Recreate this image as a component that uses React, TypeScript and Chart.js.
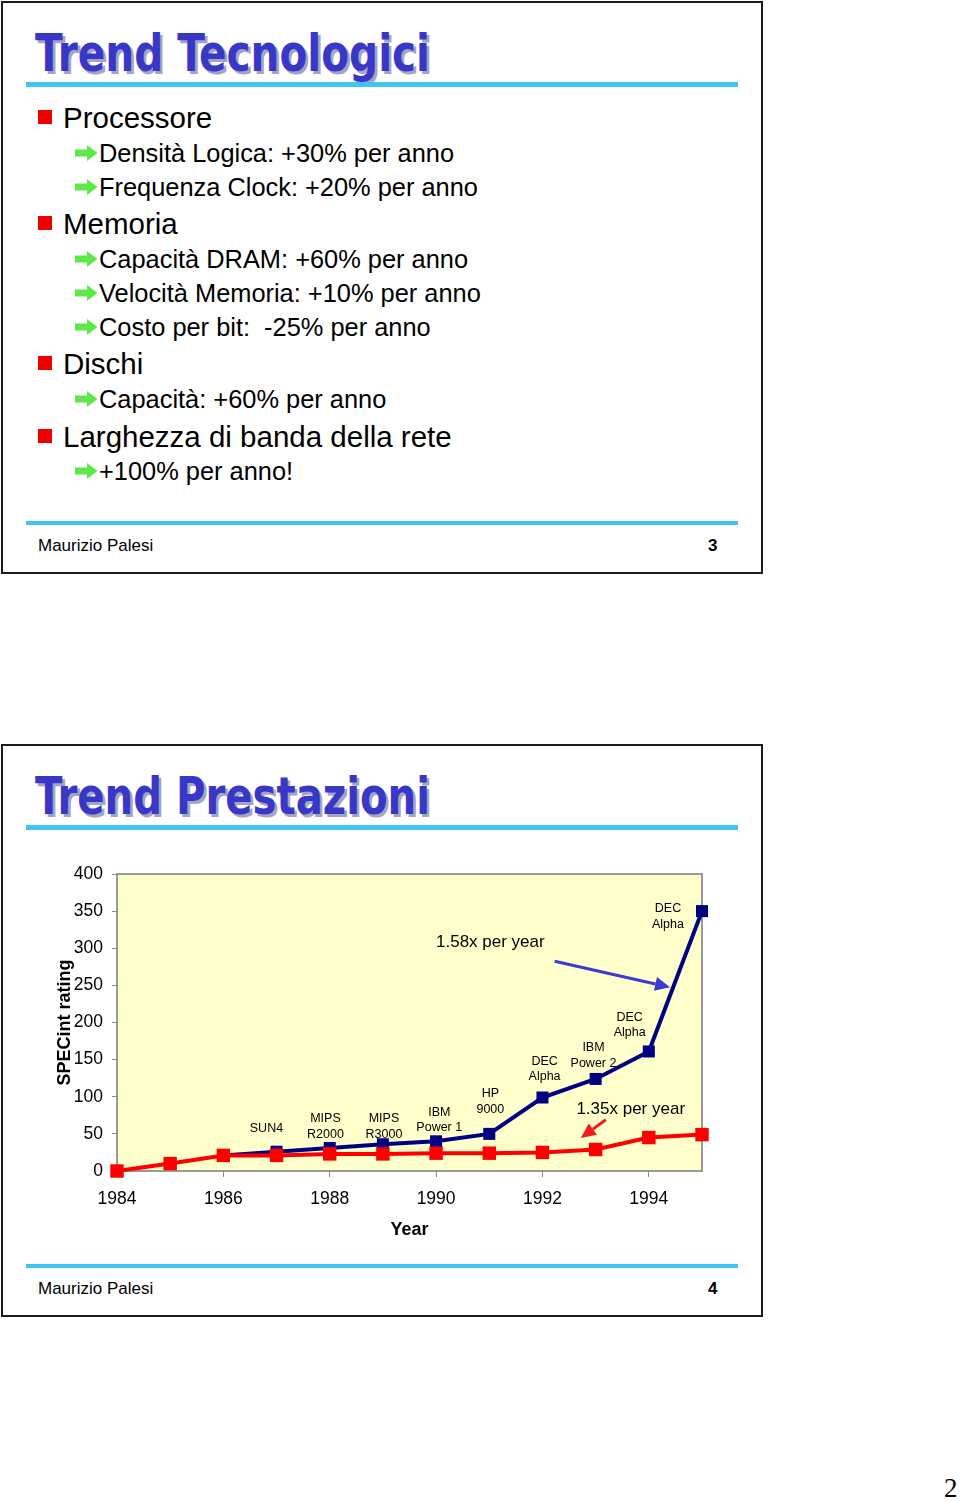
import React, { useEffect, useLayoutEffect, useRef } from "react";
import { Chart, registerables } from "chart.js";

Chart.register(...registerables);

// ---------- data ----------
const redYears = [1984, 1985, 1986, 1987, 1988, 1989, 1990, 1991, 1992, 1993, 1994, 1995];
const redValues = [0, 10, 21, 21, 23, 23, 24, 24, 25, 29, 45, 49];
const blueYears = [1986, 1987, 1988, 1989, 1990, 1991, 1992, 1993, 1994, 1995];
const blueValues = [21, 26, 31, 36, 40, 50, 99, 124, 161, 350];
const xTickYears = [1984, 1986, 1988, 1990, 1992, 1994];
const yTickValues = [0, 50, 100, 150, 200, 250, 300, 350, 400];

const machineNames = [
  ["SUN4"],
  ["MIPS", "R2000"],
  ["MIPS", "R3000"],
  ["IBM", "Power 1"],
  ["HP", "9000"],
  ["DEC", "Alpha"],
  ["IBM", "Power 2"],
  ["DEC", "Alpha"],
  ["DEC", "Alpha"],
];
// label anchors in data space (year, SPECint)
const machineAnchorYears = [1986.81, 1987.92, 1989.02, 1990.06, 1991.02, 1992.04, 1992.96, 1993.64, 1994.36];
const machineAnchorValues = [56.6, 60, 60, 68.7, 93.6, 137.4, 155.6, 196.6, 342.8];

const blueRateText = "1.58x per year";
const redRateText = "1.35x per year";

const SANS = "'Liberation Sans', Arial, Helvetica, sans-serif";
const TITLE_FONT = "'DejaVu Sans Condensed', 'DejaVu Sans', sans-serif";
const CYAN = "#3fc6f0";

// ---------- chart ----------
function PerfChart() {
  const ref = useRef<HTMLCanvasElement>(null);
  useEffect(() => {
    const canvas = ref.current!;
    const arrow = (ctx: CanvasRenderingContext2D, x1: number, y1: number, x2: number, y2: number, color: string) => {
      const ang = Math.atan2(y2 - y1, x2 - x1);
      const hl = 15, hw = 7;
      const bx = x2 - hl * Math.cos(ang), by = y2 - hl * Math.sin(ang);
      ctx.save();
      ctx.strokeStyle = color;
      ctx.fillStyle = color;
      ctx.lineWidth = 3;
      ctx.beginPath();
      ctx.moveTo(x1, y1);
      ctx.lineTo(bx, by);
      ctx.stroke();
      ctx.beginPath();
      ctx.moveTo(x2, y2);
      ctx.lineTo(bx + hw * Math.sin(ang), by - hw * Math.cos(ang));
      ctx.lineTo(bx - hw * Math.sin(ang), by + hw * Math.cos(ang));
      ctx.closePath();
      ctx.fill();
      ctx.restore();
    };
    const plugin = {
      id: "slideDecor",
      beforeDraw(chart: any) {
        const { ctx, chartArea: a } = chart;
        ctx.save();
        ctx.fillStyle = "#ffffcc";
        ctx.fillRect(a.left, a.top, a.right - a.left, a.bottom - a.top);
        ctx.strokeStyle = "#9a9a9a";
        ctx.lineWidth = 2;
        ctx.strokeRect(a.left, a.top, a.right - a.left, a.bottom - a.top);
        ctx.restore();
      },
      afterDatasetsDraw(chart: any) {
        const { ctx } = chart;
        const xs = chart.scales.x, ys = chart.scales.y;
        ctx.save();
        ctx.fillStyle = "#000";
        ctx.textAlign = "center";
        ctx.textBaseline = "middle";
        ctx.font = `12.5px ${SANS}`;
        machineNames.forEach((lines, i) => {
          const cx = xs.getPixelForValue(machineAnchorYears[i]);
          const cy = ys.getPixelForValue(machineAnchorValues[i]);
          const lh = 15.5;
          lines.forEach((t, j) => {
            ctx.fillText(t, cx, cy + (j - (lines.length - 1) / 2) * lh);
          });
        });
        ctx.font = `17px ${SANS}`;
        ctx.fillText(blueRateText, xs.getPixelForValue(1991.02), ys.getPixelForValue(308.4));
        ctx.fillText(redRateText, xs.getPixelForValue(1993.66), ys.getPixelForValue(83.5));
        ctx.restore();
        arrow(ctx, xs.getPixelForValue(1992.23), ys.getPixelForValue(282.5), xs.getPixelForValue(1994.4), ys.getPixelForValue(247.5), "#3b3bd0");
        arrow(ctx, xs.getPixelForValue(1993.19), ys.getPixelForValue(69), xs.getPixelForValue(1992.72), ys.getPixelForValue(44.5), "#ee1c1c");
      },
    };
    const chart = new Chart(canvas, {
      type: "line",
      data: {
        datasets: [
          {
            label: "red",
            data: redYears.map((y, i) => ({ x: y, y: redValues[i] })),
            borderColor: "#ff0000",
            backgroundColor: "#ff0000",
            borderWidth: 4,
            pointStyle: "rect",
            pointRadius: 9.5,
            pointBorderWidth: 0,
            pointBackgroundColor: "#ff0000",
            tension: 0,
            clip: false,
          },
          {
            label: "blue",
            data: blueYears.map((y, i) => ({ x: y, y: blueValues[i] })),
            borderColor: "#000080",
            backgroundColor: "#000080",
            borderWidth: 4,
            pointStyle: "rect",
            pointRadius: 8.5,
            pointBorderWidth: 0,
            pointBackgroundColor: "#000080",
            tension: 0,
            clip: false,
          },
        ],
      },
      options: {
        responsive: false,
        animation: false,
        events: [],
        layout: { padding: { left: 0, right: 58, top: 24, bottom: 0 } },
        plugins: { legend: { display: false }, tooltip: { enabled: false } },
        scales: {
          x: {
            type: "linear",
            min: 1984,
            max: 1995,
            afterBuildTicks: (s: any) => {
              s.ticks = xTickYears.map((v) => ({ value: v }));
            },
            afterFit: (s: any) => {
              s.height = 79;
            },
            border: { display: false },
            grid: { drawOnChartArea: false, drawTicks: true, tickLength: 6, color: "#8a8a8a", lineWidth: 1 },
            ticks: { color: "#000", font: { family: SANS, size: 17.5 }, padding: 12, maxRotation: 0, callback: (v: any) => String(v) },
            title: { display: true, text: "Year", color: "#000", font: { family: SANS, size: 18, weight: "bold" }, padding: { top: 0, bottom: 9 } },
          },
          y: {
            type: "linear",
            min: 0,
            max: 400,
            afterBuildTicks: (s: any) => {
              s.ticks = yTickValues.map((v) => ({ value: v }));
            },
            afterFit: (s: any) => {
              s.width = 117;
            },
            border: { display: false },
            grid: { drawOnChartArea: false, drawTicks: true, tickLength: 5, color: "#8a8a8a", lineWidth: 1 },
            ticks: { color: "#000", font: { family: SANS, size: 17.5 }, padding: 9 },
            title: { display: true, text: "SPECint rating", color: "#000", font: { family: SANS, size: 18, weight: "bold" }, padding: { top: 54, bottom: 0 } },
          },
        },
      },
      plugins: [plugin],
    } as any);
    return () => chart.destroy();
  }, []);
  return (
    <canvas
      ref={ref}
      width={760}
      height={400}
      style={{ position: "absolute", left: 0, top: 850, width: 760, height: 400 }}
    />
  );
}

// ---------- slide pieces ----------
function FitTitle({ text, baseline, target }: { text: string; baseline: number; target: number }) {
  const ref = useRef<HTMLSpanElement>(null);
  const fs = 51;
  useLayoutEffect(() => {
    const el = ref.current!;
    el.style.transform = "none";
    const w = el.getBoundingClientRect().width;
    if (w > 0) el.style.transform = `scaleX(${target / w})`;
  }, []);
  return (
    <span
      ref={ref}
      style={{
        position: "absolute",
        left: 35,
        top: baseline - 0.946 * fs,
        fontFamily: TITLE_FONT,
        fontWeight: "bold",
        fontSize: fs,
        lineHeight: `${fs * 1.2}px`,
        color: "#3838c8",
        textShadow: "3px 3px 0 #a4a4c4",
        whiteSpace: "nowrap",
        transformOrigin: "left center",
        display: "inline-block",
      }}
    >
      {text}
    </span>
  );
}

function Line({ text, x, cy, size, bold }: { text: string; x: number; cy: number; size: number; bold?: boolean }) {
  return (
    <div
      style={{
        position: "absolute",
        left: x,
        top: cy - 0.5885 * size,
        fontFamily: SANS,
        fontSize: size,
        fontWeight: bold ? "bold" : "normal",
        lineHeight: `${size * 1.2}px`,
        whiteSpace: "pre",
        color: "#000",
      }}
    >
      {text}
    </div>
  );
}

function MainItem({ text, cy }: { text: string; cy: number }) {
  return (
    <>
      <div style={{ position: "absolute", left: 38, top: cy - 7, width: 14, height: 14, background: "#ee0000" }} />
      <Line text={text} x={63} cy={cy} size={29.5} />
    </>
  );
}

function SubItem({ text, cy }: { text: string; cy: number }) {
  return (
    <>
      <svg style={{ position: "absolute", left: 75, top: cy - 8 }} width={23} height={16} viewBox="0 0 23 16">
        <path d="M0,4.5 L12,4.5 L12,0 L22.5,8 L12,16 L12,11.5 L0,11.5 Z" fill="#5ee84a" />
      </svg>
      <Line text={text} x={99} cy={cy} size={25.4} />
    </>
  );
}

function SlideFrame({ top, title, titleBaseline, bottomRule, topRule, footerCy, page }: any) {
  return (
    <>
      <div
        style={{
          position: "absolute",
          left: 1,
          top,
          width: 762,
          height: 573,
          border: "2px solid #1c1c1c",
          boxSizing: "border-box",
          background: "#fff",
        }}
      />
      <FitTitle text={title} baseline={titleBaseline} target={395} />
      <div style={{ position: "absolute", left: 26, top: topRule, width: 712, height: 5, background: CYAN }} />
      <div style={{ position: "absolute", left: 26, top: bottomRule, width: 712, height: 4, background: CYAN }} />
      <Line text="Maurizio Palesi" x={38} cy={footerCy} size={17} />
      <Line text={page} x={708} cy={footerCy} size={17} bold />
    </>
  );
}

export default function App() {
  return (
    <div style={{ position: "absolute", left: 0, top: 0, width: 960, height: 1501, background: "#fff", overflow: "hidden" }}>
      <SlideFrame top={1} title="Trend Tecnologici" titleBaseline={71} topRule={82} bottomRule={521} footerCy={546} page="3" />
      <MainItem text="Processore" cy={117} />
      <SubItem text="Densità Logica: +30% per anno" cy={153} />
      <SubItem text="Frequenza Clock: +20% per anno" cy={187} />
      <MainItem text="Memoria" cy={223} />
      <SubItem text="Capacità DRAM: +60% per anno" cy={259} />
      <SubItem text="Velocità Memoria: +10% per anno" cy={293} />
      <SubItem text="Costo per bit:  -25% per anno" cy={327} />
      <MainItem text="Dischi" cy={363} />
      <SubItem text="Capacità: +60% per anno" cy={399} />
      <MainItem text="Larghezza di banda della rete" cy={436} />
      <SubItem text="+100% per anno!" cy={471} />

      <SlideFrame top={744} title="Trend Prestazioni" titleBaseline={814} topRule={825} bottomRule={1264} footerCy={1289} page="4" />
      <PerfChart />

      <div
        style={{
          position: "absolute",
          left: 944,
          top: 1475,
          fontFamily: "'Liberation Serif', 'Times New Roman', serif",
          fontSize: 27,
          lineHeight: "27px",
          color: "#000",
        }}
      >
        2
      </div>
    </div>
  );
}
